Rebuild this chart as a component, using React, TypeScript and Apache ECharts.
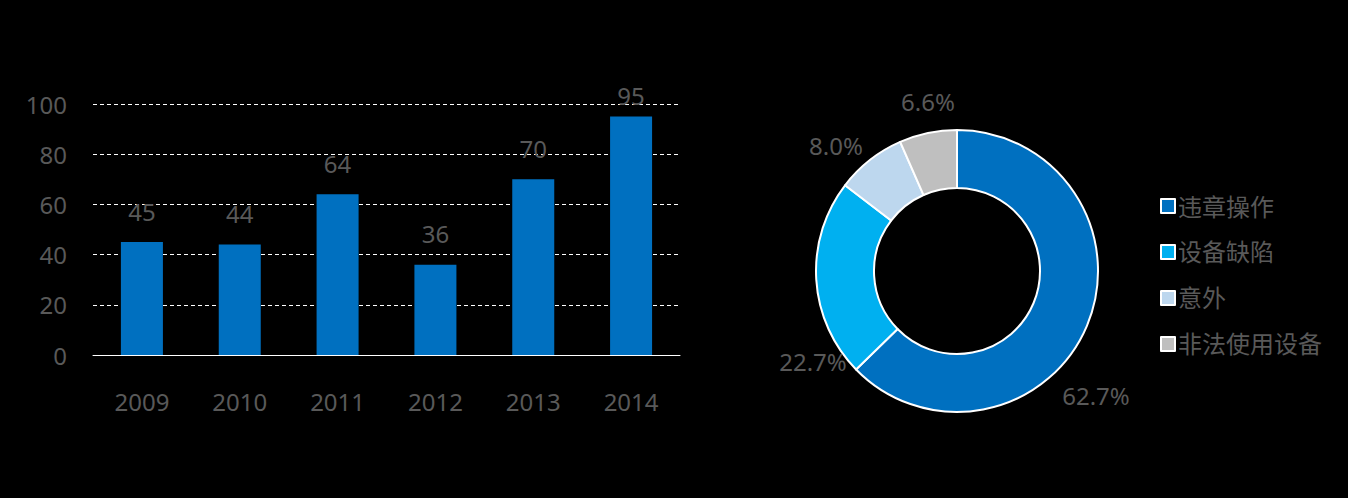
import React, { useEffect, useRef } from "react";
import * as echarts from "echarts";

const years = ["2009", "2010", "2011", "2012", "2013", "2014"];
const accidents = [45, 44, 64, 36, 70, 95];

const causes = ["违章操作", "设备缺陷", "意外", "非法使用设备"];
const causeShares = [62.7, 22.7, 8.0, 6.6];
const causeColors = ["#0070C0", "#00B0F0", "#BDD7EE", "#BFBFBF"];

// label offsets relative to pie centre (layout only)
const labelOffsets = [
  [139, 124],
  [-144, 90],
  [-121, -126],
  [-29, -170],
];

const PIE_CX = 957;
const PIE_CY = 271;
const FONT = '"Noto Sans", "Noto Sans CJK SC", sans-serif';
const TEXT = "#595959";
const Y_MAX = 100;

export default function App() {
  const ref = useRef<HTMLDivElement>(null);
  useEffect(() => {
    document.body.style.margin = "0";
    document.body.style.background = "#000";
    const chart = echarts.init(ref.current!, null, { renderer: "svg" });
    chart.setOption({
      animation: false,
      backgroundColor: "#000",
      textStyle: { fontFamily: FONT },
      grid: { left: 93, right: 668, top: 104, bottom: 143 },
      xAxis: {
        type: "category",
        data: years,
        axisLine: { lineStyle: { color: "#ffffff", width: 1 } },
        axisTick: { show: false },
        axisLabel: { color: TEXT, fontSize: 24, margin: 34, fontFamily: FONT },
      },
      yAxis: {
        type: "value",
        min: 0,
        max: Y_MAX,
        interval: 20,
        axisLine: { show: false },
        axisTick: { show: false },
        axisLabel: { color: TEXT, fontSize: 24, margin: 26, fontFamily: FONT },
        splitLine: { lineStyle: { color: "#ffffff", type: [4, 3], width: 1 } },
      },
      legend: {
        orient: "vertical",
        left: 1155,
        top: 189,
        itemWidth: 14,
        itemHeight: 14,
        itemGap: 22,
        icon: "rect",
        data: causes,
        textStyle: { color: TEXT, fontSize: 24, fontFamily: FONT, padding: [0, 0, 0, -2] },
      },
      series: [
        {
          type: "bar",
          data: accidents.map((v) => ({
            value: v,
            // keep labels of near-max bars inside the plot area
            label: v > Y_MAX - 8 ? { distance: 9 } : undefined,
          })),
          barWidth: 42,
          itemStyle: { color: "#0070C0" },
          label: {
            show: true,
            position: "top",
            distance: 19,
            color: TEXT,
            fontSize: 24,
            fontFamily: FONT,
          },
        },
        {
          type: "pie",
          center: [PIE_CX, PIE_CY],
          radius: [83, 141],
          startAngle: 90,
          clockwise: true,
          data: causes.map((name, i) => ({
            name,
            value: causeShares[i],
            itemStyle: { color: causeColors[i] },
          })),
          itemStyle: { borderColor: "#ffffff", borderWidth: 2 },
          label: {
            show: true,
            position: "outside",
            formatter: (p: any) => p.value.toFixed(1) + "%",
            color: TEXT,
            fontSize: 24,
            fontFamily: FONT,
          },
          labelLine: { show: false },
          labelLayout: (p: any) => {
            const o = labelOffsets[p.dataIndex];
            return {
              x: PIE_CX + o[0],
              y: PIE_CY + o[1],
              align: "center",
              verticalAlign: "middle",
            };
          },
        },
      ],
    });
    return () => chart.dispose();
  }, []);
  return <div ref={ref} style={{ width: 1348, height: 498 }} />;
}
